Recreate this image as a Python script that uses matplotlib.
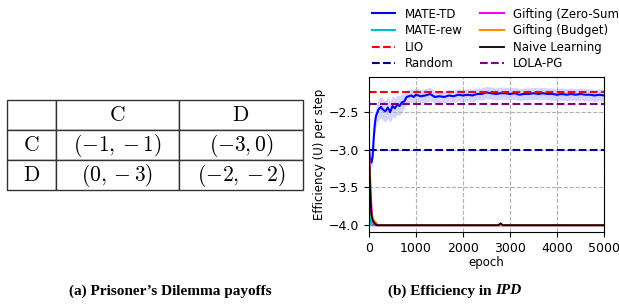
import matplotlib
matplotlib.use('Agg')
import matplotlib.pyplot as plt
import numpy as np

plt.rcParams['mathtext.fontset'] = 'cm'

# payoff table
row_labels = ['C', 'D']
col_labels = ['C', 'D']
payoffs = [['(-1,-1)', '(-3,0)'],
           ['(0,-3)', '(-2,-2)']]

# MATE-TD mean and band half width
td_epochs = [0, 25, 50, 75, 100, 125, 150, 200, 250, 300, 350, 400, 450, 500,
             550, 600, 650, 700, 750, 800, 850, 900, 950, 1000, 1100, 1200,
             1300, 1400, 1500, 1600, 1700, 1800, 1900, 2000, 2100, 2200, 2300,
             2400, 2500, 2600, 2700, 2800, 2900, 3000, 3100, 3200, 3300, 3400,
             3500, 3600, 3700, 3800, 3900, 4000, 4100, 4200, 4300, 4400, 4500,
             4600, 4700, 4800, 4900, 5000]
td_mean = [-3.0, -3.12, -3.17, -3.1, -2.85, -2.65, -2.55, -2.47, -2.43, -2.47,
           -2.49, -2.44, -2.5, -2.42, -2.45, -2.4, -2.42, -2.37, -2.36, -2.3,
           -2.29, -2.28, -2.3, -2.27, -2.29, -2.28, -2.26, -2.3, -2.29, -2.3,
           -2.28, -2.29, -2.27, -2.28, -2.27, -2.28, -2.26, -2.26, -2.24,
           -2.25, -2.26, -2.25, -2.25, -2.26, -2.25, -2.27, -2.26, -2.26,
           -2.25, -2.26, -2.25, -2.26, -2.26, -2.27, -2.26, -2.27, -2.26,
           -2.27, -2.26, -2.27, -2.27, -2.28, -2.27, -2.28]
td_band = [0.02, 0.05, 0.07, 0.1, 0.13, 0.14, 0.14, 0.14, 0.14, 0.14, 0.14,
           0.14, 0.14, 0.14, 0.13, 0.13, 0.13, 0.12, 0.1, 0.09, 0.09, 0.09,
           0.09, 0.09, 0.09, 0.09, 0.09, 0.08, 0.08, 0.08, 0.08, 0.08, 0.08,
           0.08, 0.08, 0.08, 0.08, 0.08, 0.08, 0.08, 0.08, 0.08, 0.08, 0.08,
           0.08, 0.08, 0.08, 0.08, 0.08, 0.08, 0.08, 0.08, 0.08, 0.08, 0.08,
           0.08, 0.08, 0.08, 0.08, 0.08, 0.08, 0.08, 0.08, 0.08]

# baselines that collapse to mutual defection
low_epochs = [0, 25, 50, 75, 100, 125, 150, 175, 200, 2750, 2800, 2850, 5000]
mate_rew = [-3.0, -3.9, -4.0, -4.0, -4.0, -4.0, -4.0, -4.0, -4.0, -4.0, -4.0, -4.0, -4.0]
gift_zero = [-3.0, -3.4, -3.75, -3.92, -3.98, -4.0, -4.0, -4.0, -4.0, -4.0, -4.0, -4.0, -4.0]
gift_budget = [-3.0, -3.6, -3.85, -3.9, -3.93, -3.95, -3.97, -3.99, -4.0, -4.0, -4.0, -4.0, -4.0]
naive = [-3.0, -3.55, -3.85, -3.93, -3.96, -3.98, -3.99, -4.0, -4.0, -4.0, -3.975, -4.0, -4.0]

lio_level = -2.24
random_level = -3.0
lola_level = -2.39

fig = plt.figure(figsize=(6.19, 3.07), dpi=100)

# (a) table
tax = fig.add_axes([7/619, 1 - 190/307, 296/619, 90/307])
tax.axis('off')
cells = [[''] + ['$\\mathrm{%s}$' % c for c in col_labels]]
for r, row in zip(row_labels, payoffs):
    cells.append(['$\\mathrm{%s}$' % r] + ['$%s$' % v for v in row])
tbl = tax.table(cellText=cells, bbox=[0, 0, 1, 1], cellLoc='center',
                colWidths=[49/296, 123/296, 124/296])
tbl.auto_set_font_size(False)
for (i, j), cell in tbl.get_celld().items():
    cell.set_fontsize(15.5)
    cell.set_edgecolor('#333333')
    cell.set_linewidth(1.0)

# (b) efficiency
ax = fig.add_axes([369/619, 1 - 232/307, 235/619, 155/307])
ax.fill_between(td_epochs, np.array(td_mean) - np.array(td_band),
                np.array(td_mean) + np.array(td_band), color='blue', alpha=0.17, lw=0)
ax.plot(td_epochs, td_mean, color='blue', lw=1.5, label='MATE-TD')
ax.plot(low_epochs, mate_rew, color='c', lw=1.5, label='MATE-rew')
ax.axhline(lio_level, color='red', ls='--', lw=1.5, label='LIO')
ax.axhline(random_level, color='darkblue', ls='--', lw=1.5, label='Random')
ax.plot(low_epochs, gift_zero, color='magenta', lw=1.5, label='Gifting (Zero-Sum)')
ax.plot(low_epochs, gift_budget, color='darkorange', lw=1.5, label='Gifting (Budget)')
ax.plot(low_epochs, naive, color='black', lw=1.3, label='Naive Learning')
ax.axhline(lola_level, color='purple', ls='--', lw=1.5, label='LOLA-PG')

ax.set_xlim(0, 5000)
ax.set_ylim(-4.09, -2.035)
ax.set_xticks([0, 1000, 2000, 3000, 4000, 5000])
ax.set_yticks([-4.0, -3.5, -3.0, -2.5])
ax.tick_params(labelsize=9)
ax.grid(True, ls='--', color='#b0b0b0', lw=0.8)
ax.set_xlabel('epoch', fontsize=8.5, labelpad=1)
ax.set_ylabel('Efficiency (U) per step', fontsize=8.5, labelpad=2)

handles, labels = ax.get_legend_handles_labels()
fig.legend(handles, labels, ncol=2, loc='upper left', bbox_to_anchor=(361/619, 1.01),
           frameon=False, fontsize=8.5, labelspacing=0.3, columnspacing=1.5,
           handletextpad=0.8)

fig.text(170/619, 1 - 291/307, "(a) Prisoner\u2019s Dilemma payoffs", ha='center', va='center',
         family='Liberation Serif', weight='bold', fontsize=11)
cap = fig.text(388/619, 1 - 291/307, "(b) Efficiency in ", ha='left', va='center',
               family='Liberation Serif', weight='bold', fontsize=11)
ax.annotate("IPD", xy=(1, 0.5), xycoords=cap, va='center', ha='left',
            family='Liberation Serif', weight='bold', style='italic', fontsize=11)

fig.savefig('out.png', dpi=100)
